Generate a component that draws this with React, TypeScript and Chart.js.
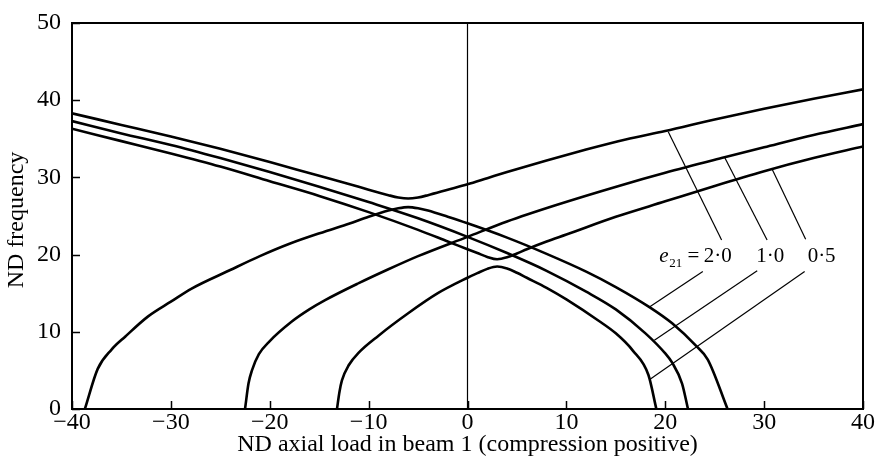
import React, { useEffect, useRef } from 'react';
import { Chart, registerables } from 'chart.js';

Chart.register(...registerables);

type Pair = [number, number];

const xTicks = [-40, -30, -20, -10, 0, 10, 20, 30, 40];
const yTicks = [0, 10, 20, 30, 40, 50];

const xTitle = 'ND axial load in beam 1 (compression positive)';
const yTitle = 'ND frequency';

// e21 = 2·0 : upper and lower branches (veering near x = -6)
const upper20: Pair[] = [
  [-40, 38.3], [-35, 36.8], [-30, 35.3], [-25, 33.7], [-20, 32.0], [-15, 30.2], [-12, 29.15],
  [-10, 28.4], [-8, 27.7], [-7, 27.4], [-6, 27.26], [-5, 27.4], [-4, 27.7], [-2, 28.4],
  [0, 29.1], [2, 29.9], [4, 30.7], [8, 32.2], [12, 33.6], [16, 34.9], [20, 36.0], [25, 37.5],
  [30, 38.9], [35, 40.2], [40, 41.4],
];
const lower20: Pair[] = [
  [-38.7, 0], [-37.4, 5.2], [-36, 7.7], [-34.6, 9.4], [-32.3, 12.0], [-30, 13.9], [-27.9, 15.6],
  [-24, 18.0], [-21, 19.8], [-18, 21.4], [-14.4, 23.0], [-12, 24.0], [-10, 24.9], [-8, 25.7],
  [-7, 26.0], [-6, 26.15], [-5, 26.0], [-4, 25.7], [-2, 24.9], [0, 24.05], [4, 22.2], [8, 20.1],
  [12, 17.8], [15, 15.8], [18.4, 13.2], [20.7, 11.1], [23.1, 8.2], [24.3, 6.4], [26.3, 0],
];

// e21 = 1·0 : the two lines cross near x = 0
const rising10: Pair[] = [
  [-22.5, 0], [-22.15, 3.3], [-21.8, 5.0], [-21.1, 7.1], [-20, 8.8], [-17.8, 11.3], [-16, 12.9],
  [-14.4, 14.1], [-11, 16.3], [-8, 18.1], [-5, 19.8], [0, 22.3], [4, 24.3], [8.9, 26.4],
  [15.3, 28.9], [20, 30.6], [26, 32.6], [30, 33.9], [35, 35.5], [40, 36.9],
];
const falling10: Pair[] = [
  [-40, 37.3], [-35, 35.7], [-30, 34.2], [-25, 32.5], [-20, 30.7], [-15, 28.8], [-10, 26.8],
  [-5, 24.7], [0, 22.3], [4, 20.2], [8, 17.9], [12, 15.2], [15, 12.9], [18, 9.8], [20, 7.2],
  [20.7, 6.0], [21.7, 3.3], [22.3, 0],
];

// e21 = 0·5 : upper and lower branches (veering near x = 3)
const upper05: Pair[] = [
  [-40, 36.3], [-35, 34.7], [-30, 33.1], [-25, 31.4], [-20, 29.5], [-15, 27.6], [-10, 25.5],
  [-5, 23.2], [-2, 21.7], [0, 20.7], [1, 20.2], [2, 19.7], [3, 19.4], [4, 19.65], [5, 20.15],
  [6, 20.7], [8, 21.7], [10, 22.6], [15, 24.9], [20, 26.9], [25, 28.9], [30, 30.8], [35, 32.5],
  [40, 34.0],
];
const lower05: Pair[] = [
  [-13.2, 0], [-12.95, 2.2], [-12.7, 3.7], [-12.0, 5.7], [-11, 7.3], [-9, 9.5], [-6, 12.4],
  [-3, 15.0], [0, 17.0], [1, 17.6], [2, 18.15], [3, 18.45], [4, 18.2], [5, 17.65], [6, 17.0],
  [8, 15.7], [10, 14.2], [13.3, 11.4], [15, 9.8], [16.7, 7.6], [18.3, 4.4], [19.1, 0],
];

const zeroLine: Pair[] = [[0, 0], [0, 50]];

// leader lines from the labels to the curves
const leaders: Pair[][] = [
  [[20.3, 35.9], [25.7, 21.9]],
  [[26.0, 32.6], [30.3, 21.9]],
  [[30.8, 31.1], [34.2, 22.0]],
  [[18.4, 13.2], [23.8, 17.8]],
  [[18.9, 8.9], [29.3, 17.9]],
  [[18.5, 3.9], [34.1, 17.8]],
];

const labelTexts = ['2·0', '1·0', '0·5'];
const labelX = [23.9, 29.2, 34.4];
const labelY = 19.1;
const prefixX = 19.4;

const SERIF = '"Liberation Serif", "Times New Roman", serif';

const toPts = (a: Pair[]) => a.map(([x, y]) => ({ x, y }));

const curve = (d: Pair[]) => ({
  data: toPts(d),
  borderColor: '#000',
  borderWidth: 2.6,
  pointRadius: 0,
  fill: false,
  cubicInterpolationMode: 'monotone' as const,
});

const thin = (d: Pair[], w: number) => ({
  data: toPts(d),
  borderColor: '#000',
  borderWidth: w,
  pointRadius: 0,
  fill: false,
  tension: 0,
});

const decorPlugin = {
  id: 'decor',
  afterDatasetsDraw(chart: any) {
    const { ctx, chartArea: a } = chart;
    const xs = chart.scales.x;
    const ys = chart.scales.y;
    ctx.save();
    ctx.strokeStyle = '#000';
    ctx.fillStyle = '#000';
    // frame
    ctx.lineWidth = 2;
    ctx.strokeRect(a.left, a.top, a.right - a.left, a.bottom - a.top);
    // inward ticks
    ctx.lineWidth = 1.5;
    ctx.beginPath();
    xTicks.forEach((v) => {
      const px = Math.round(xs.getPixelForValue(v)) + 0.5;
      ctx.moveTo(px, a.bottom);
      ctx.lineTo(px, a.bottom - 8);
    });
    yTicks.forEach((v) => {
      const py = Math.round(ys.getPixelForValue(v)) + 0.5;
      ctx.moveTo(a.left, py);
      ctx.lineTo(a.left + 8, py);
    });
    ctx.stroke();

    // curve labels
    const by = ys.getPixelForValue(labelY);
    let cx = xs.getPixelForValue(prefixX);
    ctx.textBaseline = 'alphabetic';
    ctx.textAlign = 'left';
    ctx.font = `italic 21px ${SERIF}`;
    ctx.fillText('e', cx, by);
    cx += ctx.measureText('e').width + 0.5;
    ctx.font = `13px ${SERIF}`;
    ctx.fillText('21', cx, by + 5);
    cx += ctx.measureText('21').width;
    ctx.font = `21px ${SERIF}`;
    ctx.fillText(' =', cx, by);
    labelTexts.forEach((t, i) => {
      ctx.fillText(t, xs.getPixelForValue(labelX[i]), by);
    });

    // axis titles
    ctx.font = `24px ${SERIF}`;
    ctx.textAlign = 'center';
    ctx.textBaseline = 'middle';
    ctx.fillText(xTitle, (a.left + a.right) / 2, 445);
    ctx.translate(17, 220);
    ctx.rotate(-Math.PI / 2);
    ctx.fillText(yTitle, 0, 0);
    ctx.restore();
  },
};

const fmt = (v: number) => (v < 0 ? '\u2212' + Math.abs(v) : String(v));

export default function App() {
  const ref = useRef<HTMLCanvasElement | null>(null);
  useEffect(() => {
    if (!ref.current) return;
    const chart = new Chart(ref.current, {
      type: 'line',
      data: {
        datasets: [
          thin(zeroLine, 1.2),
          curve(upper20),
          curve(lower20),
          curve(rising10),
          curve(falling10),
          curve(upper05),
          curve(lower05),
          ...leaders.map((l) => thin(l, 1.2)),
        ] as any,
      },
      options: {
        animation: false,
        responsive: false,
        devicePixelRatio: 1,
        events: [],
        layout: { padding: { top: 13, right: 14, left: 0, bottom: 0 } },
        plugins: { legend: { display: false }, tooltip: { enabled: false } },
        scales: {
          x: {
            type: 'linear',
            min: -40,
            max: 40,
            grid: { display: false, drawTicks: false },
            border: { display: false },
            afterBuildTicks: (s: any) => {
              s.ticks = xTicks.map((v) => ({ value: v }));
            },
            afterFit: (s: any) => {
              s.height = 62;
            },
            ticks: {
              color: '#000',
              padding: 2,
              maxRotation: 0,
              autoSkip: false,
              font: { family: SERIF, size: 24, lineHeight: 1 },
              callback: (v: any) => fmt(Number(v)),
            },
          },
          y: {
            type: 'linear',
            min: 0,
            max: 50,
            grid: { display: false, drawTicks: false },
            border: { display: false },
            afterBuildTicks: (s: any) => {
              s.ticks = yTicks.map((v) => ({ value: v }));
            },
            afterFit: (s: any) => {
              s.width = 72;
            },
            ticks: {
              color: '#000',
              padding: 11,
              autoSkip: false,
              font: { family: SERIF, size: 24, lineHeight: 1 },
              callback: (v: any) => fmt(Number(v)),
            },
          },
        },
      } as any,
      plugins: [decorPlugin],
    });
    return () => chart.destroy();
  }, []);
  return (
    <div style={{ position: 'absolute', left: 0, top: 0, width: 877, height: 471, background: '#fff' }}>
      <canvas ref={ref} width={877} height={471} style={{ display: 'block' }} />
    </div>
  );
}
